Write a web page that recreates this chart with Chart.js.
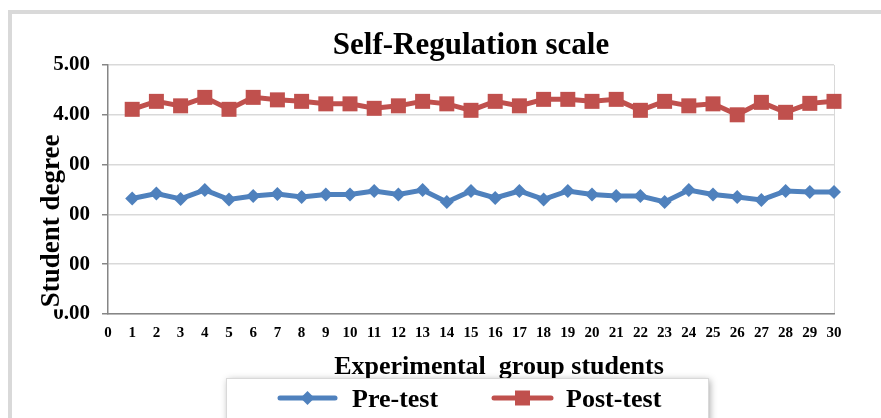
<!DOCTYPE html>
<html>
<head>
<meta charset="utf-8">
<script src="https://cdn.jsdelivr.net/npm/chart.js@4"></script>
<style>
  html, body { margin: 0; padding: 0; background: #fff; }
  #wrap { width: 881px; height: 418px; }
</style>
</head>
<body>
<div id="wrap"><canvas id="chart" width="881" height="418"></canvas></div>
<script>
// --- data ---
const students = [1, 2, 3, 4, 5, 6, 7, 8, 9, 10, 11, 12, 13, 14, 15, 16, 17, 18, 19, 20, 21, 22, 23, 24, 25, 26, 27, 28, 29, 30];
const preTest = [2.32, 2.42, 2.31, 2.49, 2.30, 2.37, 2.41, 2.35, 2.40, 2.40, 2.47, 2.40, 2.49, 2.25, 2.47,
                 2.33, 2.47, 2.30, 2.47, 2.40, 2.37, 2.37, 2.25, 2.49, 2.40, 2.35, 2.29, 2.47, 2.45, 2.45];
const postTest = [4.11, 4.27, 4.18, 4.35, 4.11, 4.35, 4.30, 4.27, 4.22, 4.22, 4.13, 4.18, 4.27, 4.22, 4.09,
                  4.27, 4.18, 4.31, 4.31, 4.27, 4.31, 4.09, 4.27, 4.18, 4.22, 4.00, 4.25, 4.05, 4.23, 4.27];
const yTicks = [0, 1, 2, 3, 4, 5];

const BLUE = '#4F81BD';
const RED = '#C0504D';
const SERIF = '"Liberation Serif", "Times New Roman", serif';

function toPoints(values) {
    return students.map((s, i) => ({ x: s, y: values[i] }));
}

// frame, titles and legend drawn around the chart
const decorations = {
    id: 'decorations',
    beforeDraw(chart) {
        const ctx = chart.ctx;
        ctx.save();
        ctx.fillStyle = '#fff';
        ctx.fillRect(0, 0, chart.width, chart.height);
        ctx.fillStyle = '#d9d9d9';
        ctx.fillRect(8, 10, chart.width - 8, 4);
        ctx.fillRect(8, 10, 4, chart.height - 10);
        ctx.restore();
    },
    afterDraw(chart) {
        const ctx = chart.ctx;
        ctx.save();
        ctx.fillStyle = '#000';
        ctx.textBaseline = 'alphabetic';
        ctx.textAlign = 'center';

        // title
        ctx.font = 'bold 31px ' + SERIF;
        ctx.fillText('Self-Regulation scale', 471, 54);

        // x axis title
        ctx.font = 'bold 26px ' + SERIF;
        ctx.fillText('Experimental  group students', 499, 374);

        // y axis title (sits over the tick labels like the original)
        ctx.save();
        ctx.translate(52, 221);
        ctx.rotate(-Math.PI / 2);
        ctx.font = 'bold 27px ' + SERIF;
        ctx.textBaseline = 'middle';
        const tw = ctx.measureText('Student degree').width;
        ctx.fillStyle = '#fff';
        ctx.fillRect(-tw / 2 - 2, -15, tw + 4, 33);
        ctx.fillStyle = '#000';
        ctx.fillText('Student degree', 0, 0);
        ctx.restore();

        // legend box
        ctx.save();
        ctx.shadowColor = 'rgba(0,0,0,0.35)';
        ctx.shadowBlur = 7;
        ctx.shadowOffsetX = 2;
        ctx.shadowOffsetY = 2;
        ctx.fillStyle = '#fff';
        ctx.fillRect(226, 378, 482, 60);
        ctx.restore();
        ctx.strokeStyle = '#d9d9d9';
        ctx.lineWidth = 1;
        ctx.strokeRect(226.5, 378.5, 482, 60);

        const items = [
            { label: 'Pre-test', color: BLUE, x0: 280, x1: 335, tx: 352, marker: 'diamond' },
            { label: 'Post-test', color: RED, x0: 494, x1: 551, tx: 566, marker: 'square' }
        ];
        const ly = 398;
        items.forEach(it => {
            ctx.strokeStyle = it.color;
            ctx.fillStyle = it.color;
            ctx.lineWidth = 5;
            ctx.lineCap = 'round';
            ctx.beginPath();
            ctx.moveTo(it.x0, ly);
            ctx.lineTo(it.x1, ly);
            ctx.stroke();
            const cx = (it.x0 + it.x1) / 2;
            ctx.beginPath();
            if (it.marker === 'diamond') {
                ctx.moveTo(cx, ly - 7);
                ctx.lineTo(cx + 7, ly);
                ctx.lineTo(cx, ly + 7);
                ctx.lineTo(cx - 7, ly);
                ctx.closePath();
            } else {
                ctx.rect(cx - 7.5, ly - 7.5, 15, 15);
            }
            ctx.fill();
            ctx.fillStyle = '#000';
            ctx.textAlign = 'left';
            ctx.font = 'bold 26px ' + SERIF;
            ctx.fillText(it.label, it.tx, ly + 9);
        });
        ctx.restore();
    }
};

new Chart(document.getElementById('chart'), {
    type: 'line',
    data: {
        datasets: [{
            label: 'Pre-test',
            data: toPoints(preTest),
            borderColor: BLUE,
            backgroundColor: BLUE,
            borderWidth: 5,
            pointStyle: 'rectRot',
            pointRadius: 7,
            pointBorderWidth: 0,
            pointBackgroundColor: BLUE,
            tension: 0,
            clip: false
        }, {
            label: 'Post-test',
            data: toPoints(postTest),
            borderColor: RED,
            backgroundColor: RED,
            borderWidth: 5,
            pointStyle: 'rect',
            pointRadius: 10.6,
            pointBorderWidth: 0,
            pointBackgroundColor: RED,
            tension: 0,
            clip: false
        }]
    },
    options: {
        responsive: false,
        animation: false,
        layout: { padding: { left: 0, top: 65, right: 47, bottom: 0 } },
        plugins: {
            legend: { display: false },
            title: { display: false },
            tooltip: { enabled: false }
        },
        scales: {
            x: {
                type: 'linear',
                min: 0,
                max: 30,
                afterFit: s => { s.height = 104; },
                afterBuildTicks: s => { s.ticks = [0].concat(students).map(v => ({ value: v })); },
                ticks: {
                    color: '#000',
                    padding: 10,
                    maxRotation: 0,
                    autoSkip: false,
                    font: { family: SERIF, size: 15, weight: 'bold' }
                },
                grid: {
                    drawTicks: false,
                    color: c => (c.tick && c.tick.value === 30 ? '#d9d9d9' : 'rgba(0,0,0,0)')
                },
                border: { color: '#868686', width: 1.5 }
            },
            y: {
                min: 0,
                max: 5,
                afterFit: s => { s.width = 108; },
                afterBuildTicks: s => { s.ticks = yTicks.map(v => ({ value: v })); },
                ticks: {
                    color: '#000',
                    padding: 12,
                    callback: v => v.toFixed(2),
                    font: { family: SERIF, size: 21, weight: 'bold' }
                },
                grid: {
                    color: '#d9d9d9',
                    lineWidth: 1.5,
                    tickLength: 6,
                    tickColor: '#868686'
                },
                border: { color: '#868686', width: 1.5 }
            }
        }
    },
    plugins: [decorations]
});
</script>
</body>
</html>
